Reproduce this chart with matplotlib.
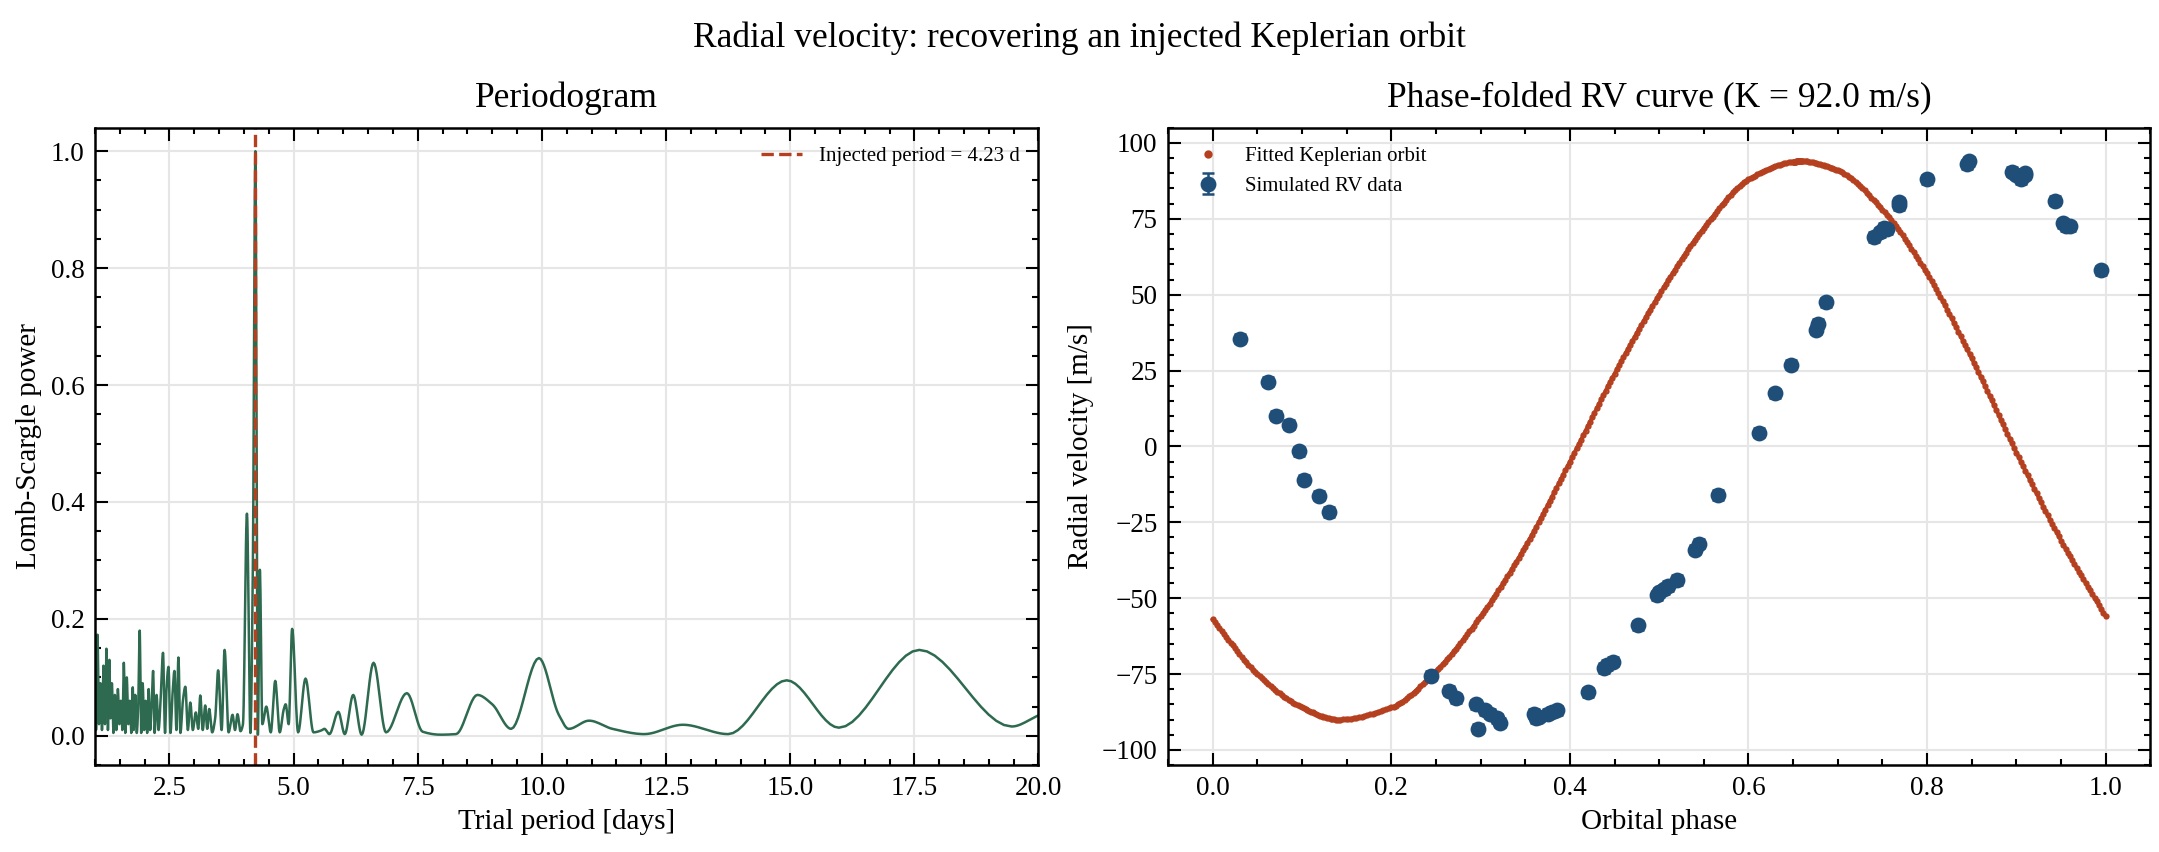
import matplotlib
matplotlib.use("Agg")
import matplotlib.pyplot as plt
import numpy as np
from matplotlib.lines import Line2D

plt.rcParams['font.family'] = ['Liberation Serif', 'DejaVu Serif']
plt.rcParams['mathtext.fontset'] = 'stix'

# Periodogram (period [d], power)
per_period = [1.0, 1.02, 1.05, 1.08, 1.11, 1.14, 1.17, 1.2, 1.23, 1.26, 1.29, 1.31, 1.34, 1.37, 1.40, 1.43,
              1.46, 1.49, 1.52, 1.55, 1.58, 1.61, 1.64, 1.67, 1.70, 1.73, 1.76, 1.78, 1.81, 1.84, 1.87, 1.90,
              1.93, 1.96, 1.99, 2.02, 2.05, 2.08, 2.11, 2.14, 2.17, 2.20, 2.24, 2.28, 2.32, 2.37, 2.41, 2.44,
              2.48, 2.52, 2.56, 2.60, 2.64, 2.68, 2.72, 2.77, 2.82, 2.87, 2.92, 2.97, 3.03, 3.08, 3.12, 3.17,
              3.22, 3.26, 3.30, 3.36, 3.42, 3.48, 3.55, 3.61, 3.69, 3.77, 3.82, 3.87, 3.93, 3.98, 4.06, 4.13,
              4.18, 4.23, 4.28, 4.32, 4.37, 4.45, 4.54, 4.63, 4.72, 4.80, 4.84, 4.90, 4.97, 5.09, 5.24, 5.40,
              5.55, 5.62, 5.72, 5.90, 6.03, 6.20, 6.37, 6.61, 6.86, 7.28, 7.60, 7.96, 8.27, 8.70, 9.00, 9.38,
              9.94, 10.34, 10.54, 10.95, 11.42, 12.06, 12.84, 13.75, 14.93, 15.98, 17.6, 19.46, 20.0]
per_power = [0.17, 0.01, 0.173, 0.02, 0.09, 0.01, 0.12, 0.02, 0.149, 0.01, 0.13, 0.03, 0.09, 0.005, 0.07, 0.01,
             0.08, 0.02, 0.06, 0.01, 0.125, 0.005, 0.10, 0.02, 0.06, 0.005, 0.083, 0.01, 0.07, 0.005, 0.05, 0.18,
             0.005, 0.09, 0.01, 0.06, 0.005, 0.08, 0.01, 0.05, 0.111, 0.005, 0.07, 0.01, 0.06, 0.142, 0.005, 0.08,
             0.118, 0.005, 0.07, 0.111, 0.01, 0.134, 0.005, 0.06, 0.084, 0.01, 0.057, 0.01, 0.04, 0.012, 0.069, 0.01,
             0.052, 0.012, 0.046, 0.006, 0.03, 0.112, 0.01, 0.147, 0.006, 0.036, 0.01, 0.037, 0.008, 0.02, 0.38, 0.005,
             0.3, 1.0, 0.002, 0.284, 0.02, 0.05, 0.006, 0.094, 0.006, 0.045, 0.054, 0.02, 0.183, 0.006, 0.098, 0.006,
             0.009, 0.012, 0.003, 0.041, 0.003, 0.07, 0.002, 0.125, 0.006, 0.073, 0.007, 0.002, 0.003, 0.07, 0.054, 0.012,
             0.133, 0.036, 0.012, 0.026, 0.012, 0.003, 0.019, 0.003, 0.095, 0.014, 0.147, 0.016, 0.035]
injected_period = 4.23

# Phase-folded RV data
rv_phase = [0.031, 0.062, 0.071, 0.086, 0.097, 0.102, 0.119, 0.130,
            0.245, 0.265, 0.272, 0.295, 0.297, 0.305, 0.31, 0.318, 0.322, 0.36, 0.362, 0.365, 0.375, 0.38, 0.386,
            0.42, 0.438, 0.442, 0.448, 0.476, 0.497, 0.5, 0.505, 0.51, 0.52, 0.54, 0.545, 0.566, 0.612, 0.63,
            0.648, 0.676, 0.678, 0.687, 0.74, 0.747, 0.752, 0.755, 0.768, 0.769, 0.8, 0.845, 0.847, 0.895,
            0.9, 0.905, 0.91, 0.91, 0.943, 0.952, 0.955, 0.96, 0.995]
rv_value = [35.5, 21.3, 10.1, 7.1, -1.6, -11.0, -16.3, -21.6,
            -75.5, -80.5, -83, -85, -93, -87, -88, -89.5, -91, -88, -89.5, -89, -88, -87.5, -87,
            -81, -73, -72, -71, -59, -49, -48, -47, -46, -44, -34, -32, -16, 4.5, 17.5,
            27, 38.5, 40.5, 47.5, 69, 70.5, 72, 71.5, 79.5, 80.5, 88, 93, 94, 90.5,
            89.5, 88, 90, 89.5, 81, 73.5, 72.5, 72.5, 58]
rv_err = 1.5

# Fitted Keplerian orbit (phase, velocity)
fit_phase = [0.0, 0.05, 0.1, 0.14, 0.2, 0.25, 0.3, 0.35, 0.4, 0.45, 0.5, 0.55, 0.6, 0.65, 0.66, 0.7, 0.75, 0.8, 0.85, 0.9, 0.95, 1.0]
fit_value = [-57, -75, -86, -90, -86, -74, -56, -33, -5, 24, 50, 72, 88, 93.8, 94, 91, 78, 57, 29, -2, -31, -56]


def smooth_path(x, y, n=12):
    """Monotone cubic (PCHIP) rendering path through the read points."""
    x = np.asarray(x, float); y = np.asarray(y, float)
    h = np.diff(x); d = np.diff(y) / h
    m = np.zeros_like(y)
    for k in range(1, len(x) - 1):
        if d[k - 1] * d[k] > 0:
            w1 = 2 * h[k] + h[k - 1]; w2 = h[k] + 2 * h[k - 1]
            m[k] = (w1 + w2) / (w1 / d[k - 1] + w2 / d[k])
    m[0] = d[0]; m[-1] = d[-1]
    xs, ys = [], []
    for k in range(len(x) - 1):
        t = np.linspace(0, 1, n, endpoint=False)
        h00 = 2*t**3 - 3*t**2 + 1; h10 = t**3 - 2*t**2 + t
        h01 = -2*t**3 + 3*t**2; h11 = t**3 - t**2
        xs.append(x[k] + t * h[k])
        ys.append(h00*y[k] + h10*h[k]*m[k] + h01*y[k+1] + h11*h[k]*m[k+1])
    xs.append([x[-1]]); ys.append([y[-1]])
    return np.concatenate(xs), np.concatenate(ys)


green = '#2d6a4f'
red = '#b5401f'
blue = '#1f4e79'

fig = plt.figure(figsize=(2159/300, 852/300), dpi=300)
ax1 = fig.add_axes([0.044, 0.102, 0.437, 0.748])
ax2 = fig.add_axes([0.541, 0.102, 0.455, 0.748])

for ax in (ax1, ax2):
    ax.tick_params(which='both', direction='in', top=True, right=True, labelsize=6.5, pad=2.5)
    ax.tick_params(which='major', length=3, width=0.5)
    ax.tick_params(which='minor', length=1.5, width=0.5)
    ax.minorticks_on()
    ax.grid(True, color='#e6e6e6', linewidth=0.5)
    ax.set_axisbelow(True)
    for s in ax.spines.values():
        s.set_linewidth(0.6)

px, py = smooth_path(per_period, per_power)
ax1.plot(px, py, color=green, lw=0.6)
ax1.axvline(injected_period, color=red, ls='--', lw=0.8, label=f'Injected period = {injected_period} d')
ax1.set_xlim(1, 20)
ax1.set_ylim(-0.05, 1.04)
ax1.set_xlabel('Trial period [days]', fontsize=7, labelpad=2)
ax1.set_ylabel('Lomb-Scargle power', fontsize=7, labelpad=2)
ax1.set_title('Periodogram', fontsize=8.5, pad=5)
ax1.legend(loc='upper right', fontsize=5, frameon=False)

fx, fy = smooth_path(fit_phase, fit_value, n=20)
ax2.plot(fx, fy, color=red, lw=0.9, marker='.', markersize=1.0, linestyle='-')
ax2.errorbar(rv_phase, rv_value, yerr=rv_err, fmt='o', color=blue, markersize=2.8, capsize=1.5,
             elinewidth=0.6, capthick=0.6, label='Simulated RV data')
h, l = ax2.get_legend_handles_labels()
h = [Line2D([], [], color=red, marker='.', markersize=2, linestyle='none')] + h
l = ['Fitted Keplerian orbit'] + l
ax2.legend(h, l, loc='upper left', fontsize=5, frameon=False)
ax2.set_xlim(-0.05, 1.05)
ax2.set_ylim(-105, 105)
ax2.set_xlabel('Orbital phase', fontsize=7, labelpad=2)
ax2.set_ylabel('Radial velocity [m/s]', fontsize=7, labelpad=2)
ax2.set_title('Phase-folded RV curve (K = 92.0 m/s)', fontsize=8.5, pad=5)

fig.suptitle('Radial velocity: recovering an injected Keplerian orbit', fontsize=8.5, y=0.975)
fig.savefig('out.png', dpi=300)
